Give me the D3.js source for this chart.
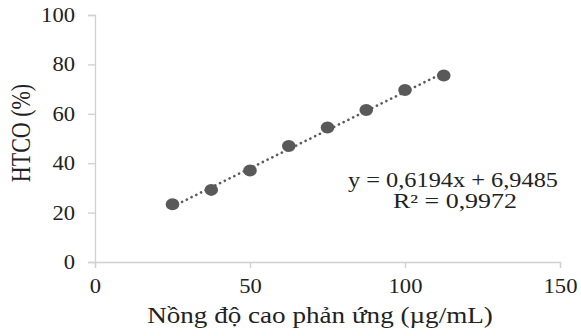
<!DOCTYPE html>
<html>
<head>
<meta charset="utf-8">
<script src="https://cdn.jsdelivr.net/npm/d3@7"></script>
<style>
  body { margin: 0; background: #fff; }
  svg text { font-family: "Liberation Serif", "Times New Roman", serif; fill: #222; }
</style>
</head>
<body>
<div id="chart"></div>
<script>
// concentration (µg/mL) and inhibition (%)
const concentrations = [25, 37.5, 50, 62.5, 75, 87.5, 100, 112.5];
const htco = [23.4, 29.2, 37.0, 47.0, 54.5, 61.5, 69.6, 75.5];
const xTicks = [0, 50, 100, 150];
const yTicks = [0, 20, 40, 60, 80, 100];
const slope = 0.6194, intercept = 6.9485;
const eqLines = ['y = 0,6194x + 6,9485', 'R² = 0,9972'];

const width = 581, height = 336;
const margin = {top: 15, right: 21, bottom: 74, left: 95};
const innerW = width - margin.left - margin.right,
      innerH = height - margin.top - margin.bottom;

// the source picture is a bit wider than tall, so text is stretched sideways
const stretch = 1.13;

function widen(sel, s){
	sel.each(function(){
		const t = d3.select(this);
		const x0 = +t.attr('x') || 0, y0 = +t.attr('y') || 0;
		t.attr('x', 0).attr('y', 0)
			.attr('transform', `translate(${x0},${y0}) scale(${s},1)`);
	});
}

const svg = d3.select('#chart').append('svg')
  .attr('width', width).attr('height', height);

const g = svg.append('g')
  .attr('transform', `translate(${margin.left}, ${margin.top})`);

const x = d3.scaleLinear().domain([0, 150]).range([0, innerW]);
const y = d3.scaleLinear().domain([0, 100]).range([innerH, 0]);

// axes
const yAxis = g.append('g')
  .call(d3.axisLeft(y).tickValues(yTicks).tickSize(7).tickPadding(13));
const xAxis = g.append('g')
  .attr('transform', `translate(0, ${innerH})`)
  .call(d3.axisBottom(x).tickValues(xTicks).tickSize(6).tickPadding(6));

[xAxis, yAxis].forEach(a => {
  a.selectAll('path, line').attr('stroke', '#d0d0d0').attr('stroke-width', 1.3);
  a.selectAll('text').style('font-size', '20px').attr('fill', '#222');
});
xAxis.selectAll('text').attr('dy', '0.95em');
widen(xAxis.selectAll('text'), stretch);
widen(yAxis.selectAll('text'), stretch);

// trendline
const tx = d3.extent(concentrations);
g.append('line')
  .attr('x1', x(tx[0])).attr('y1', y(slope * tx[0] + intercept))
  .attr('x2', x(tx[1])).attr('y2', y(slope * tx[1] + intercept))
  .attr('stroke', '#595959')
  .attr('stroke-width', 2.6)
  .attr('stroke-dasharray', '0.1,5.2')
  .attr('stroke-linecap', 'round');

// points
g.selectAll('ellipse.pt')
  .data(concentrations)
  .join('ellipse')
  .attr('class', 'pt')
  .attr('cx', d => x(d))
  .attr('cy', (d, i) => y(htco[i]))
  .attr('rx', 6.8)
  .attr('ry', 6)
  .attr('fill', '#595959');

// equation, squeezed to the widths seen in the picture
const eqWidths = [210, 124];
eqLines.forEach((t, i) => {
  g.append('text')
    .attr('x', 358 + (i ? 2 : 0))
    .attr('y', 171.5 + i * 21)
    .attr('text-anchor', 'middle')
    .attr('textLength', eqWidths[i])
    .attr('lengthAdjust', 'spacingAndGlyphs')
    .style('font-size', '20px')
    .text(t);
});

// axis titles
svg.append('text')
  .attr('transform', `translate(320, 323) scale(${stretch},1)`)
  .attr('text-anchor', 'middle')
  .style('font-size', '24px')
  .text('Nồng độ cao phản ứng (µg/mL)');

svg.append('text')
  .attr('transform', `translate(30, 133) scale(1.2,1) rotate(-90)`)
  .attr('text-anchor', 'middle')
  .style('font-size', '22px')
  .text('HTCO (%)');
</script>
</body>
</html>
